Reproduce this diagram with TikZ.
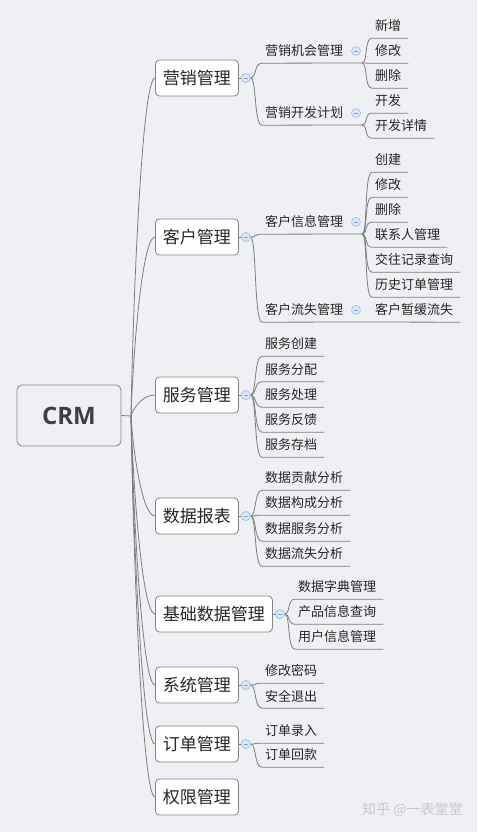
\documentclass[tikz,border=0pt]{standalone}
\usepackage{fontspec}
\setmainfont{Noto Sans CJK SC}
\newfontfamily\crmfont{Open Sans}
\definecolor{bg}{HTML}{EEF0F3}
\definecolor{ln}{HTML}{7E7E7E}
\definecolor{bd}{HTML}{858585}
\definecolor{foldfill}{HTML}{DCE7F8}
\definecolor{folddraw}{HTML}{A3C0EA}
\definecolor{folddash}{HTML}{7FA2DA}
\definecolor{txt}{HTML}{262626}
\definecolor{crmtxt}{HTML}{3F3F3F}
\definecolor{wm}{HTML}{C6C8CC}
\begin{document}
\begin{tikzpicture}[x=1pt,y=-1pt,
  con/.style={draw=ln,line width=0.8pt},
  topic/.style={draw=bd,fill=white,rounded corners=4pt,line width=0.8pt,minimum height=36pt,inner xsep=7.5pt,inner ysep=0pt,anchor=west,font=\fontsize{17}{20}\selectfont,text=txt},
  sub/.style={inner sep=0pt,minimum height=24pt,anchor=west,font=\fontsize{13}{15}\selectfont,text=txt},
  fold/.style={circle,draw=folddraw,fill=foldfill,line width=0.6pt,minimum size=9pt,inner sep=0pt,
    path picture={\draw[folddash,line width=0.6pt] ([xshift=-2.2pt]path picture bounding box.center) -- ([xshift=2.2pt]path picture bounding box.center);}},
  crmbox/.style={draw=bd,fill=bg,rounded corners=5pt,line width=0.8pt,minimum width=104pt,minimum height=61pt,inner sep=0pt,font=\crmfont\bfseries\fontsize{24}{24}\selectfont,text=crmtxt},
]
\fill[bg] (0,0) rectangle (477,832);
\useasboundingbox (0,0) rectangle (477,832);

% root
\node[crmbox] (crm) at (69,415.5) {CRM};
\coordinate (t) at (131,416);
\draw[con] (crm.east) -- (t);

% level 1
\node[topic] (b1) at (155,78) {营销管理};
\node[topic] (b2) at (155,237) {客户管理};
\node[topic] (b3) at (155,395) {服务管理};
\node[topic] (b4) at (155,516) {数据报表};
\node[topic] (b5) at (155,614) {基础数据管理};
\node[topic] (b6) at (155,685) {系统管理};
\node[topic] (b7) at (155,744) {订单管理};
\node[topic] (b8) at (155,797) {权限管理};

\draw[con] (t) .. controls +(2,-115) and +(-13,0) .. (b1.west);
\draw[con] (t) .. controls +(2,-61) and +(-13,0) .. (b2.west);
\draw[con] (t) .. controls +(2,-7) and +(-13,0) .. (b3.west);
\draw[con] (t) .. controls +(2,34) and +(-13,0) .. (b4.west);
\draw[con] (t) .. controls +(2,67) and +(-13,0) .. (b5.west);
\draw[con] (t) .. controls +(2,91) and +(-13,0) .. (b6.west);
\draw[con] (t) .. controls +(2,112) and +(-13,0) .. (b7.west);
\draw[con] (t) .. controls +(2,130) and +(-13,0) .. (b8.west);

% fold markers of level 1
\foreach \b/\f in {b1/f1,b2/f2,b3/f3,b4/f4,b5/f5,b6/f6,b7/f7}{
  \draw[con] (\b.east) -- ([xshift=3pt]\b.east);
  \node[fold] (\f) at ([xshift=7pt]\b.east) {};
}

% ===== 营销管理 =====
\node[sub] (m1) at (265,51) {营销机会管理};
\node[fold] (mf1) at (356,51) {};
\coordinate (mj1) at (362,63);
\draw[con] (f1.east) .. controls +(6,0) and +(-8,0) .. ([xshift=-3pt]m1.south west) -- (mj1);
\node[sub] (m1a) at (375,26) {新增};
\node[sub] (m1b) at (375,51) {修改};
\node[sub] (m1c) at (375,76) {删除};
\foreach \n in {m1a,m1b,m1c}
  \draw[con] (mj1) .. controls +(6,0) and +(-8,0) .. ([xshift=-3pt]\n.south west) -- ([xshift=7pt]\n.south east);

\node[sub] (m2) at (265,113) {营销开发计划};
\node[fold] (mf2) at (356,113) {};
\coordinate (mj2) at (362,125);
\draw[con] (f1.east) .. controls +(6,0) and +(-8,0) .. ([xshift=-3pt]m2.south west) -- (mj2);
\node[sub] (m2a) at (375,101) {开发};
\node[sub] (m2b) at (375,126) {开发详情};
\foreach \n in {m2a,m2b}
  \draw[con] (mj2) .. controls +(6,0) and +(-8,0) .. ([xshift=-3pt]\n.south west) -- ([xshift=7pt]\n.south east);

% ===== 客户管理 =====
\node[sub] (c1) at (265,222) {客户信息管理};
\node[fold] (cf1) at (356,222) {};
\coordinate (cj1) at (362,234);
\draw[con] (f2.east) .. controls +(6,0) and +(-8,0) .. ([xshift=-3pt]c1.south west) -- (cj1);
\node[sub] (c1a) at (375,160) {创建};
\node[sub] (c1b) at (375,185) {修改};
\node[sub] (c1c) at (375,210) {删除};
\node[sub] (c1d) at (375,235) {联系人管理};
\node[sub] (c1e) at (375,260) {交往记录查询};
\node[sub] (c1f) at (375,285) {历史订单管理};
\foreach \n in {c1a,c1b,c1c,c1d,c1e,c1f}
  \draw[con] (cj1) .. controls +(6,0) and +(-8,0) .. ([xshift=-3pt]\n.south west) -- ([xshift=7pt]\n.south east);

\node[sub] (c2) at (265,310) {客户流失管理};
\node[fold] (cf2) at (356,310) {};
\coordinate (cj2) at (362,322);
\draw[con] (f2.east) .. controls +(6,0) and +(-8,0) .. ([xshift=-3pt]c2.south west) -- (cj2);
\node[sub] (c2a) at (375,310) {客户暂缓流失};
\draw[con] (cj2) -- ([xshift=7pt]c2a.south east);

% ===== 服务管理 =====
\node[sub] (s1) at (265,344) {服务创建};
\node[sub] (s2) at (265,369.5) {服务分配};
\node[sub] (s3) at (265,395) {服务处理};
\node[sub] (s4) at (265,420) {服务反馈};
\node[sub] (s5) at (265,445) {服务存档};
\foreach \n in {s1,s2,s3,s4,s5}
  \draw[con] (f3.east) .. controls +(6,0) and +(-8,0) .. ([xshift=-3pt]\n.south west) -- ([xshift=7pt]\n.south east);

% ===== 数据报表 =====
\node[sub] (d1) at (265,478) {数据贡献分析};
\node[sub] (d2) at (265,503) {数据构成分析};
\node[sub] (d3) at (265,529) {数据服务分析};
\node[sub] (d4) at (265,554) {数据流失分析};
\foreach \n in {d1,d2,d3,d4}
  \draw[con] (f4.east) .. controls +(6,0) and +(-8,0) .. ([xshift=-3pt]\n.south west) -- ([xshift=7pt]\n.south east);

% ===== 基础数据管理 =====
\node[sub] (e1) at (298,587) {数据字典管理};
\node[sub] (e2) at (298,612) {产品信息查询};
\node[sub] (e3) at (298,637) {用户信息管理};
\foreach \n in {e1,e2,e3}
  \draw[con] (f5.east) .. controls +(6,0) and +(-8,0) .. ([xshift=-3pt]\n.south west) -- ([xshift=7pt]\n.south east);

% ===== 系统管理 =====
\node[sub] (g1) at (265,671) {修改密码};
\node[sub] (g2) at (265,696) {安全退出};
\foreach \n in {g1,g2}
  \draw[con] (f6.east) .. controls +(6,0) and +(-8,0) .. ([xshift=-3pt]\n.south west) -- ([xshift=7pt]\n.south east);

% ===== 订单管理 =====
\node[sub] (o1) at (265,731) {订单录入};
\node[sub] (o2) at (265,755) {订单回款};
\foreach \n in {o1,o2}
  \draw[con] (f7.east) .. controls +(6,0) and +(-8,0) .. ([xshift=-3pt]\n.south west) -- ([xshift=7pt]\n.south east);

% redraw fold markers on top of connectors
\foreach \f in {f1,f2,f3,f4,f5,f6,f7}
  \node[fold] at (\f) {};

% watermark
\node[anchor=west,inner sep=0pt,font=\fontsize{14}{16}\selectfont,text=wm] (wmk) at (362,810) {知乎 @一表堂堂};
\end{tikzpicture}
\end{document}
